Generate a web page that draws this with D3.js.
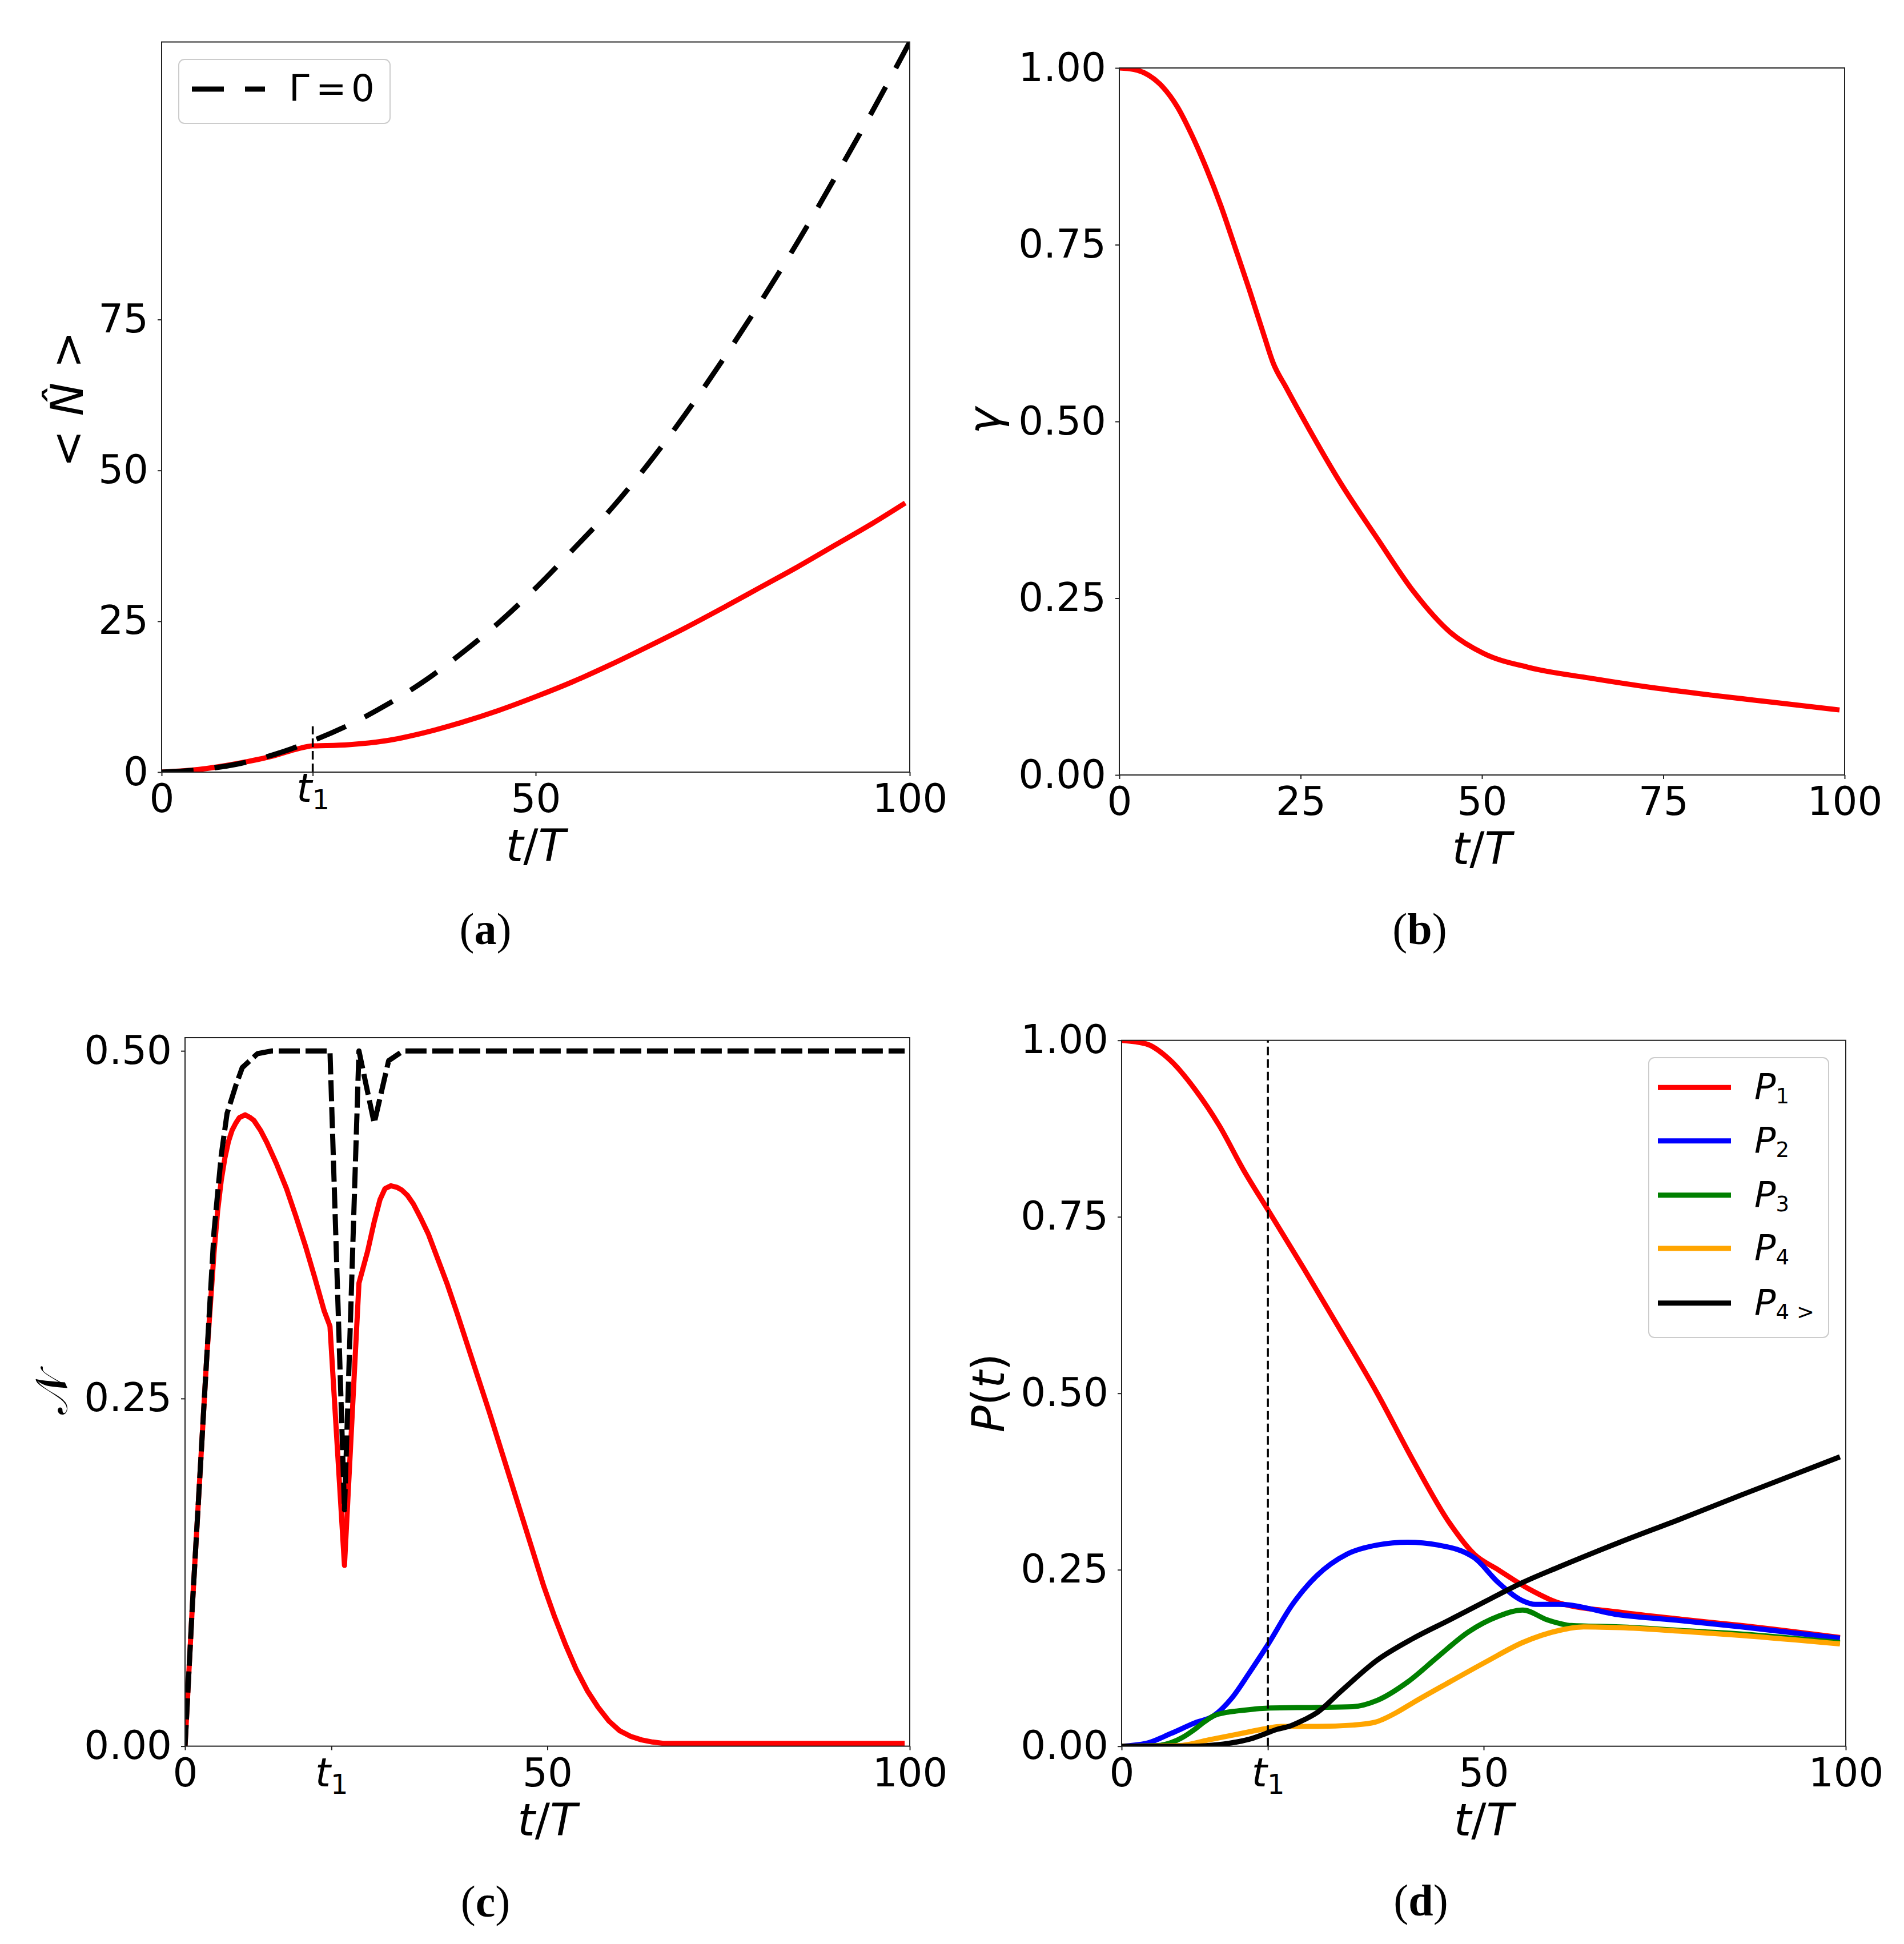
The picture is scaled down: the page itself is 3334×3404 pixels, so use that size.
<!DOCTYPE html>
<html><head><meta charset="utf-8">
<script src="https://cdn.jsdelivr.net/npm/d3@7"></script>
<style>body{margin:0;background:#fff}</style>
</head><body>
<svg id="fig" width="3334" height="3404" xmlns="http://www.w3.org/2000/svg"></svg>
<script>
// ---------------- DATA ----------------
const T1 = 20.2;

// (a) mean photon number
const aRedT  = [0,5,10,15,18,20.2,22,25,30,35,40,45,50,55,60,65,70,75,80,85,90,95,99.4];
const aRedV  = [0,0.45,1.4,2.7,3.8,4.35,4.4,4.55,5.2,6.5,8.2,10.2,12.5,15.0,17.8,20.8,23.9,27.2,30.6,34.0,37.6,41.2,44.6];
const aDashT = [0,5,10,15,20,25,30,35,40,45,50,55,60,65,70,75,80,85,90,95,100];
const aDashV = [0,0.4,1.3,2.9,5.1,7.8,11.1,15.0,19.6,24.7,30.5,36.9,43.5,51.0,59.3,68.3,77.8,87.8,98.5,109.5,121.0];
const aXTicks = [0, T1, 50, 100];
const aXTickLabels = ["0", "t1", "50", "100"];
const aYTicks = [0, 25, 50, 75];
const aYTickLabels = ["0", "25", "50", "75"];

// (b) gamma
const bT = [0,2,4,6,8,10,12,14,16,18,20,21.2,23,25.3,30.5,35.6,40.6,45.6,50.2,56.5,64.9,73.2,81.6,90.0,99.3];
const bV = [1.0,0.998,0.99,0.973,0.945,0.905,0.858,0.805,0.745,0.684,0.62,0.583,0.548,0.505,0.413,0.334,0.259,0.202,0.172,0.152,0.137,0.124,0.113,0.103,0.092];
const bXTicks = [0, 25, 50, 75, 100];
const bXTickLabels = ["0", "25", "50", "75", "100"];
const bYTicks = [0, 0.25, 0.5, 0.75, 1.0];
const bYTickLabels = ["0.00", "0.25", "0.50", "0.75", "1.00"];

// (c) negativity
const cRedT = [0,1,2,3,4,4.5,5,5.5,6,6.5,7,7.5,8.3,9,9.5,10.4,11.3,12.6,14,15.3,16.6,17.9,19.2,20,22,24,25.2,26.1,26.9,27.6,28.4,29.2,29.9,30.7,31.5,32.5,33.6,34.9,36.2,37.5,39,40.5,42,43.5,45,46.5,48,49.5,51,52.5,54,55.5,57,58.5,60,61.5,63,64.5,66,70,99.3];
const cRedV = [0,0.1,0.19,0.28,0.355,0.385,0.407,0.423,0.435,0.443,0.448,0.452,0.454,0.452,0.45,0.443,0.434,0.419,0.401,0.381,0.36,0.337,0.313,0.302,0.13,0.333,0.356,0.377,0.393,0.401,0.403,0.402,0.40,0.396,0.39,0.38,0.368,0.35,0.332,0.312,0.288,0.264,0.24,0.215,0.19,0.165,0.14,0.115,0.093,0.073,0.055,0.04,0.028,0.018,0.011,0.007,0.0045,0.003,0.002,0.002,0.002];
const cDashT = [0,1,2,3,4,5,5.8,7,7.9,10,12,20,22,24,26.1,28.1,30.1,99.3];
const cDashV = [0,0.1,0.19,0.28,0.37,0.425,0.455,0.475,0.488,0.498,0.5,0.5,0.17,0.5,0.448,0.493,0.5,0.5];
const cXTicks = [0, T1, 50, 100];
const cXTickLabels = ["0", "t1", "50", "100"];
const cYTicks = [0, 0.25, 0.5];
const cYTickLabels = ["0.00", "0.25", "0.50"];

// (d) populations
const dT1 = [0,3.4,6.8,10.1,13.5,16.8,20.2,25.2,30.3,35.3,40.3,45.3,48.7,52,56.2,60.4,68.8,77.2,85.6,99.2];
const dV1 = [1,0.995,0.971,0.931,0.879,0.817,0.76,0.676,0.588,0.5,0.404,0.316,0.272,0.25,0.223,0.203,0.19,0.18,0.171,0.154];
const dT2 = [0,3.4,6.8,10.1,12.7,15.2,17.7,20.2,23.6,26.9,31.1,35.3,39.5,43.7,48.7,52,55.4,57.1,60.4,68.8,77.2,85.6,99.2];
const dV2 = [0,0.004,0.018,0.033,0.043,0.068,0.105,0.144,0.201,0.241,0.272,0.285,0.289,0.285,0.267,0.232,0.206,0.201,0.201,0.186,0.178,0.169,0.153];
const dT3 = [0,5,6.8,8.5,10.1,11.5,12.7,14.5,16,20.2,26.9,31.9,35.3,39.5,43.7,47.9,52,55.4,58.8,62.1,68.8,77.2,85.6,99.2];
const dV3 = [0,0.001,0.005,0.013,0.024,0.035,0.043,0.048,0.05,0.054,0.055,0.056,0.065,0.091,0.127,0.162,0.184,0.193,0.179,0.171,0.169,0.164,0.159,0.147];
const dT4 = [0,8,12,16,20,22,27,32,35,38,40.3,45.3,50.4,55.4,60.4,63.8,68.8,77.2,85.6,99.2];
const dV4 = [0,0.001,0.009,0.017,0.025,0.028,0.028,0.03,0.034,0.048,0.062,0.091,0.12,0.147,0.164,0.169,0.168,0.163,0.157,0.145];
const dT5 = [0,10,13.1,15.9,18,19.9,21.5,23.1,24.7,26.9,30.3,35.3,40.3,45.3,50.4,55.4,60.4,68.8,77.2,85.6,99.2];
const dV5 = [0,0,0.002,0.006,0.011,0.018,0.024,0.028,0.035,0.047,0.078,0.122,0.153,0.179,0.206,0.232,0.254,0.289,0.322,0.356,0.41];
const dXTicks = [0, T1, 50, 100];
const dXTickLabels = ["0", "t1", "50", "100"];
const dYTicks = [0, 0.25, 0.5, 0.75, 1.0];
const dYTickLabels = ["0.00", "0.25", "0.50", "0.75", "1.00"];
const dLegendNames = ["1", "2", "3", "4", "4>"];
const dColors = ["#ff0000", "#0000ff", "#008000", "#ffa500", "#000000"];

// ---------------- DRAWING ----------------
const svg = d3.select("#fig");
svg.append("rect").attr("width", 3334).attr("height", 3404).attr("fill", "#fff");
const FONT = "DejaVu Sans";
const TICK_FS = 69, LABEL_FS = 78, LW = 9;

function drawPanel(p) {
  const x = d3.scaleLinear().domain(p.xDomain).range([p.left, p.right]);
  const y = d3.scaleLinear().domain(p.yDomain).range([p.bottom, p.top]);
  const g = svg.append("g");
  const clipId = "clip-" + p.id;
  g.append("clipPath").attr("id", clipId).append("rect")
    .attr("x", p.left).attr("y", p.top).attr("width", p.right - p.left).attr("height", p.bottom - p.top);
  const plot = g.append("g").attr("clip-path", `url(#${clipId})`);
  p.series.forEach(s => {
    const line = d3.line().x(d => x(d[0])).y(d => y(d[1])).curve(s.curve || d3.curveMonotoneX);
    plot.append("path").datum(d3.zip(s.t, s.v)).attr("d", line)
      .attr("fill", "none").attr("stroke", s.color).attr("stroke-width", s.width)
      .attr("stroke-dasharray", s.dash || null)
      .attr("stroke-linejoin", "round").attr("stroke-linecap", "butt");
  });
  if (p.vline) {
    plot.append("line")
      .attr("x1", x(p.vline.t)).attr("x2", x(p.vline.t))
      .attr("y1", y(p.vline.from)).attr("y2", y(p.vline.to))
      .attr("stroke", "#000").attr("stroke-width", 3.5).attr("stroke-dasharray", "15,7");
  }
  // frame
  g.append("rect").attr("x", p.left).attr("y", p.top)
    .attr("width", p.right - p.left).attr("height", p.bottom - p.top)
    .attr("fill", "none").attr("stroke", "#222").attr("stroke-width", 2);
  // x axis
  const xa = g.append("g").attr("transform", `translate(0,${p.bottom})`)
    .call(d3.axisBottom(x).tickValues(p.xTicks).tickSize(7).tickPadding(14)
      .tickFormat((d, i) => p.xTickLabels[i]));
  xa.select(".domain").remove();
  xa.attr("font-size", TICK_FS).attr("font-family", FONT);
  xa.selectAll("line").attr("stroke", "#222").attr("stroke-width", 2);
  xa.selectAll("text").attr("fill", "#000").each(function(d, i) {
    if (p.xTickLabels[i] === "t1") {
      const t = d3.select(this); t.text(null);
      if (p.t1Raise) t.attr("y", +t.attr("y") - p.t1Raise);
      t.append("tspan").attr("font-style", "italic").text("t");
      t.append("tspan").attr("font-size", 48).attr("dy", 13).text("1");
    }
  });
  // y axis
  const ya = g.append("g").attr("transform", `translate(${p.left},0)`)
    .call(d3.axisLeft(y).tickValues(p.yTicks).tickSize(7).tickPadding(16)
      .tickFormat((d, i) => p.yTickLabels[i]));
  ya.select(".domain").remove();
  ya.attr("font-size", TICK_FS).attr("font-family", FONT);
  ya.selectAll("line").attr("stroke", "#222").attr("stroke-width", 2);
  ya.selectAll("text").attr("fill", "#000");
  // x label t/T
  const xl = g.append("text").attr("x", (p.left + p.right) / 2).attr("y", p.bottom + 156)
    .attr("text-anchor", "middle").attr("font-family", FONT).attr("font-size", LABEL_FS);
  xl.append("tspan").attr("font-style", "italic").text("t");
  xl.append("tspan").text("/");
  xl.append("tspan").attr("font-style", "italic").text("T");
  // y label
  const yl = g.append("text")
    .attr("transform", `translate(${p.ylabX},${p.ylabY}) rotate(-90)`)
    .attr("text-anchor", "middle").attr("font-family", FONT).attr("font-size", LABEL_FS);
  p.ylabel.forEach(part => {
    const ts = yl.append("tspan").text(part.s);
    if (part.it) ts.attr("font-style", "italic");
  });
  // caption
  const cap = g.append("text").attr("x", p.capX).attr("y", p.capY)
    .attr("text-anchor", "middle").attr("font-family", "Liberation Serif").attr("font-size", 78);
  cap.append("tspan").text("(");
  cap.append("tspan").attr("font-weight", "bold").text(p.caption);
  cap.append("tspan").text(")");
  return { x, y, g };
}

// Panel (a)
const pa = drawPanel({
  id: "a", left: 283, right: 1593, top: 73.5, bottom: 1352,
  xDomain: [0, 100], yDomain: [0, 121],
  xTicks: aXTicks, xTickLabels: aXTickLabels, yTicks: aYTicks, yTickLabels: aYTickLabels,
  t1Raise: 18,
  series: [
    { t: aRedT, v: aRedV, color: "#ff0000", width: LW },
    { t: aDashT, v: aDashV, color: "#000", width: LW, dash: "56,37" }
  ],
  vline: { t: T1, from: 0, to: 7.6 },
  ylabel: [{ s: "<" }, { s: " " }, { s: "N\u0302", it: true }, { s: " " }, { s: ">" }],
  ylabX: 145, ylabY: 699, caption: "a", capX: 850, capY: 1653
});
// legend (a)
{
  const lg = pa.g.append("g");
  lg.append("rect").attr("x", 313).attr("y", 104).attr("width", 370).attr("height", 112)
    .attr("rx", 10).attr("fill", "#fff").attr("fill-opacity", 0.8).attr("stroke", "#cccccc").attr("stroke-width", 2);
  lg.append("line").attr("x1", 336).attr("x2", 464).attr("y1", 156).attr("y2", 156)
    .attr("stroke", "#000").attr("stroke-width", LW).attr("stroke-dasharray", "56,37");
  const lt = lg.append("text").attr("y", 177).attr("font-family", FONT).attr("font-size", 64);
  lt.append("tspan").attr("x", 506).text("\u0393");
  lt.append("tspan").attr("x", 553).text("=");
  lt.append("tspan").attr("x", 615).text("0");
}

// Panel (b)
drawPanel({
  id: "b", left: 1960, right: 3230, top: 119, bottom: 1357,
  xDomain: [0, 100], yDomain: [0, 1],
  xTicks: bXTicks, xTickLabels: bXTickLabels, yTicks: bYTicks, yTickLabels: bYTickLabels,
  series: [{ t: bT, v: bV, color: "#ff0000", width: LW }],
  ylabel: [{ s: "\u03b3", it: true }],
  ylabX: 1751, ylabY: 737, caption: "b", capX: 2486, capY: 1653
});

// Panel (c)
drawPanel({
  id: "c", left: 324, right: 1593, top: 1817, bottom: 3057.6,
  xDomain: [0, 100], yDomain: [0, 0.5095],
  xTicks: cXTicks, xTickLabels: cXTickLabels, yTicks: cYTicks, yTickLabels: cYTickLabels,
  series: [
    { t: cRedT, v: cRedV, color: "#ff0000", width: LW, curve: d3.curveLinear },
    { t: cDashT, v: cDashV, color: "#000", width: LW, dash: "37,10", curve: d3.curveLinear }
  ],
  ylabel: [{ s: "\ud835\udca9" }],
  ylabX: 117, ylabY: 2439, caption: "c", capX: 850, capY: 3356
});

// Panel (d)
const pd = drawPanel({
  id: "d", left: 1964, right: 3232, top: 1821.7, bottom: 3057.7,
  xDomain: [0, 100], yDomain: [0, 1],
  xTicks: dXTicks, xTickLabels: dXTickLabels, yTicks: dYTicks, yTickLabels: dYTickLabels,
  series: [
    { t: dT1, v: dV1, color: dColors[0], width: LW },
    { t: dT2, v: dV2, color: dColors[1], width: LW },
    { t: dT3, v: dV3, color: dColors[2], width: LW },
    { t: dT4, v: dV4, color: dColors[3], width: LW },
    { t: dT5, v: dV5, color: dColors[4], width: LW }
  ],
  vline: { t: T1, from: 0, to: 1 },
  ylabel: [{ s: "P", it: true }, { s: "(" }, { s: "t", it: true }, { s: ")" }],
  ylabX: 1758, ylabY: 2439, caption: "d", capX: 2488, capY: 3354
});
// legend (d)
{
  const lg = pd.g.append("g");
  lg.append("rect").attr("x", 2887).attr("y", 1852).attr("width", 315).attr("height", 490)
    .attr("rx", 10).attr("fill", "#fff").attr("fill-opacity", 0.8).attr("stroke", "#cccccc").attr("stroke-width", 2);
  const rowY = [1904.3, 1997.7, 2092.7, 2186, 2281.7];
  dLegendNames.forEach((nm, i) => {
    lg.append("line").attr("x1", 2903).attr("x2", 3031).attr("y1", rowY[i]).attr("y2", rowY[i])
      .attr("stroke", dColors[i]).attr("stroke-width", LW);
    const t = lg.append("text").attr("x", 3072).attr("y", rowY[i] + 20)
      .attr("font-family", FONT).attr("font-size", 62);
    t.append("tspan").attr("font-style", "italic").text("P");
    if (nm === "4>") {
      t.append("tspan").attr("font-size", 37).attr("dy", 8).text("4");
      t.append("tspan").attr("font-size", 37).attr("x", 3146).text(">");
    } else {
      t.append("tspan").attr("font-size", 37).attr("dy", 8).text(nm);
    }
  });
}
</script>
</body></html>
